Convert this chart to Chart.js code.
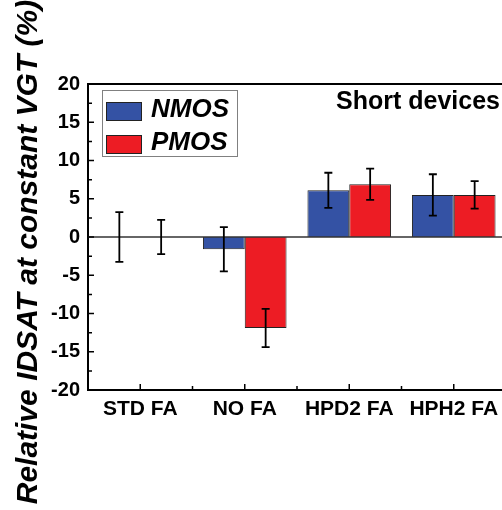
<!DOCTYPE html>
<html>
<head>
<meta charset="utf-8">
<script src="https://cdn.jsdelivr.net/npm/chart.js@4/dist/chart.umd.min.js"></script>
<style>
  html, body { margin: 0; padding: 0; background: #fff; overflow: hidden; }
  #wrap { width: 512px; height: 510px; }
</style>
</head>
<body>
<div id="wrap"><canvas id="chart" width="512" height="510"></canvas></div>
<script>
// datos
const categories = ['STD FA', 'NO FA', 'HPD2 FA', 'HPH2 FA'];
const nmosValues = [0, -1.6, 6.1, 5.5];
const nmosErrors = [3.25, 2.9, 2.3, 2.7];
const pmosValues = [0, -11.9, 6.9, 5.5];
const pmosErrors = [2.25, 2.5, 2.05, 1.8];
const yTicks = [-20, -15, -10, -5, 0, 5, 10, 15, 20];

const FONT = '"Liberation Sans", Arial, sans-serif';

// barras de error, ticks hacia dentro, leyenda y títulos
const decorPlugin = {
    id: 'decor',
    afterDatasetsDraw(chart) {
        const ctx = chart.ctx;
        const y = chart.scales.y;
        const x = chart.scales.x;
        const area = chart.chartArea;

        // línea del cero
        ctx.save();
        ctx.strokeStyle = '#333';
        ctx.lineWidth = 1.5;
        ctx.beginPath();
        ctx.moveTo(area.left, y.getPixelForValue(0));
        ctx.lineTo(area.right, y.getPixelForValue(0));
        ctx.stroke();

        // error bars
        ctx.strokeStyle = '#000';
        ctx.lineWidth = 1.8;
        chart.data.datasets.forEach((ds, di) => {
            const meta = chart.getDatasetMeta(di);
            meta.data.forEach((bar, i) => {
                const v = ds.data[i], e = ds.errors[i];
                const top = y.getPixelForValue(v + e);
                const bot = y.getPixelForValue(v - e);
                ctx.beginPath();
                ctx.moveTo(bar.x, top); ctx.lineTo(bar.x, bot);
                ctx.moveTo(bar.x - 4, top); ctx.lineTo(bar.x + 4, top);
                ctx.moveTo(bar.x - 4, bot); ctx.lineTo(bar.x + 4, bot);
                ctx.stroke();
            });
        });

        // marco superior
        ctx.lineWidth = 2;
        ctx.beginPath();
        ctx.moveTo(area.left, area.top);
        ctx.lineTo(area.right + 10, area.top);
        ctx.stroke();

        // ticks del eje Y (mayores y menores)
        ctx.lineWidth = 1.5;
        yTicks.forEach((t, i) => {
            const py = y.getPixelForValue(t);
            ctx.beginPath();
            ctx.moveTo(area.left, py); ctx.lineTo(area.left + 6, py);
            if (i < yTicks.length - 1) {
                const pm = y.getPixelForValue(t + 2.5);
                ctx.moveTo(area.left, pm); ctx.lineTo(area.left + 4, pm);
            }
            ctx.stroke();
        });

        // ticks del eje X
        categories.forEach((c, i) => {
            const px = x.getPixelForValue(i);
            ctx.beginPath();
            ctx.moveTo(px, area.bottom); ctx.lineTo(px, area.bottom - 6);
            if (i > 0) {
                const pm = (px + x.getPixelForValue(i - 1)) / 2;
                ctx.moveTo(pm, area.bottom); ctx.lineTo(pm, area.bottom - 4);
            }
            ctx.stroke();
        });

        // leyenda
        ctx.strokeStyle = '#808080';
        ctx.lineWidth = 1;
        ctx.strokeRect(102.5, 90.5, 135, 66);
        chart.data.datasets.forEach((ds, di) => {
            const sy = 102 + di * 33;
            ctx.fillStyle = ds.backgroundColor;
            ctx.fillRect(106, sy, 36, 19);
            ctx.strokeStyle = '#222';
            ctx.strokeRect(106.5, sy + 0.5, 35, 18);
            ctx.fillStyle = '#000';
            ctx.font = 'italic bold 26px ' + FONT;
            ctx.textAlign = 'left';
            ctx.textBaseline = 'alphabetic';
            ctx.fillText(ds.label, 151, sy + 15);
        });

        // texto "Short devices"
        ctx.font = 'bold 25px ' + FONT;
        ctx.textAlign = 'right';
        ctx.fillText('Short devices', 500, 109);

        // título del eje Y
        ctx.translate(36.5, 252);
        ctx.rotate(-Math.PI / 2);
        ctx.textAlign = 'center';
        ctx.font = 'italic bold 30px ' + FONT;
        ctx.fillText('Relative IDSAT at constant VGT (%)', 0, 0);
        ctx.restore();
    }
};

new Chart(document.getElementById('chart'), {
    type: 'bar',
    data: {
        labels: categories,
        datasets: [
            { label: 'NMOS', data: nmosValues, errors: nmosErrors,
              backgroundColor: '#3452A4', borderColor: '#222', borderWidth: 1 },
            { label: 'PMOS', data: pmosValues, errors: pmosErrors,
              backgroundColor: '#ED1C24', borderColor: '#222', borderWidth: 1 }
        ]
    },
    options: {
        responsive: false,
        animation: false,
        layout: { padding: { top: 84, right: 6, left: 0, bottom: 0 } },
        datasets: { bar: { categoryPercentage: 0.8, barPercentage: 1.0 } },
        plugins: { legend: { display: false }, tooltip: { enabled: false } },
        scales: {
            x: {
                offset: true,
                grid: { display: false, drawTicks: false },
                border: { display: true, color: '#000', width: 2 },
                ticks: { color: '#000', padding: 7, font: { family: FONT, size: 21, weight: 'bold' } },
                afterFit: s => { s.height = 120; }
            },
            y: {
                min: -20, max: 20,
                grid: { display: false, drawTicks: false },
                border: { display: true, color: '#000', width: 2 },
                afterBuildTicks: s => { s.ticks = yTicks.map(v => ({ value: v })); },
                ticks: { color: '#000', padding: 8, font: { family: FONT, size: 20, weight: 'bold' } },
                afterFit: s => { s.width = 88; }
            }
        }
    },
    plugins: [decorPlugin]
});
</script>
</body>
</html>
